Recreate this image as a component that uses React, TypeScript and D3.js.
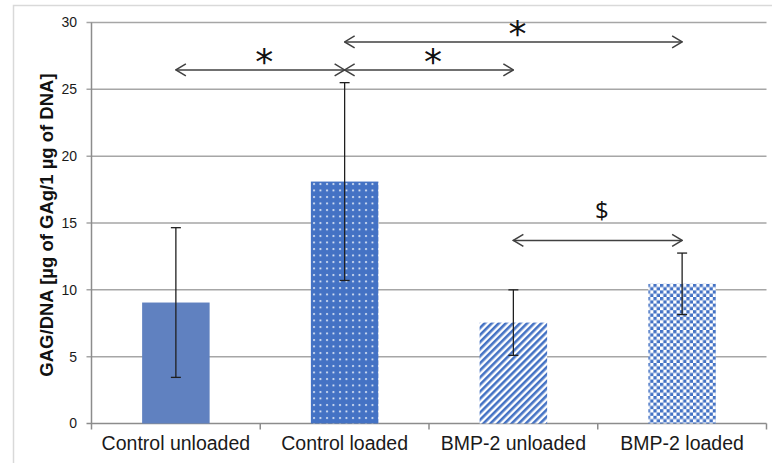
import * as React from "react"
import * as d3 from "d3"

const categories = ["Control unloaded", "Control loaded", "BMP-2 unloaded", "BMP-2 loaded"]
const means = [9.05, 18.1, 7.55, 10.45]
const errors = [5.6, 7.4, 2.45, 2.3]
const patterns = ["solid", "dots", "stripes", "checks"]
const yTicks = [0, 5, 10, 15, 20, 25, 30]

// significance brackets: from / to are category indexes, y in data units
const brackets = [
    { from: 0, to: 1, y: 26.45, label: "*" },
    { from: 1, to: 2, y: 26.45, label: "*" },
    { from: 1, to: 3, y: 28.55, label: "*" },
    { from: 2, to: 3, y: 13.7, label: "$" },
]

const W = 772
const H = 463
const margin = { left: 91.5, right: 5.5, top: 22.5, bottom: 39.5 }

export default function App() {
    const x = d3.scaleBand<string>()
        .domain(categories)
        .range([margin.left, W - margin.right])
        .paddingInner(0.6)
        .paddingOuter(0.3)

    const band = d3.scaleBand<string>()
        .domain(categories)
        .range([margin.left, W - margin.right])

    const y = d3.scaleLinear()
        .domain([0, 30])
        .range([H - margin.bottom, margin.top])

    const blue = "#4472c4"
    const fills: Record<string, string> = {
        solid: "#6081c0",
        dots: "url(#p-dots)",
        stripes: "url(#p-stripes)",
        checks: "url(#p-checks)",
    }

    const cx = (c: string) => x(c)! + x.bandwidth() / 2
    const font = "'Liberation Sans', Arial, sans-serif"

    return (
        <svg width={W} height={H} style={{ position: "absolute", left: 0, top: 0, display: "block", background: "#fff" }}>
            <defs>
                <pattern id="p-dots" width={6.5} height={6.5} patternUnits="userSpaceOnUse">
                    <rect width={6.5} height={6.5} fill={blue} />
                    <circle cx={2} cy={2} r={1} fill="#e4ebf7" />
                </pattern>
                <pattern id="p-stripes" width={5} height={5} patternUnits="userSpaceOnUse" patternTransform="rotate(45)">
                    <rect width={5} height={5} fill="#fff" />
                    <rect width={2.6} height={5} fill={blue} />
                </pattern>
                <pattern id="p-checks" width={6.6} height={6.6} patternUnits="userSpaceOnUse">
                    <rect width={6.6} height={6.6} fill="#fff" />
                    <rect width={3.3} height={3.3} fill={blue} />
                    <rect x={3.3} y={3.3} width={3.3} height={3.3} fill={blue} />
                </pattern>
                <marker id="chev" viewBox="0 0 12 14" refX={11} refY={7} markerWidth={12} markerHeight={14}
                    markerUnits="userSpaceOnUse" orient="auto-start-reverse">
                    <path d="M1,1 L11,7 L1,13" fill="none" stroke="#404040" strokeWidth={1.5} />
                </marker>
            </defs>

            {/* outer frame */}
            <rect x={13.5} y={5.5} width={W} height={H} fill="none" stroke="#d9d9d9" strokeWidth={1.5} />

            {/* grid lines */}
            {yTicks.map(t => (
                <g key={t}>
                    <line x1={margin.left - 5} x2={W - margin.right} y1={y(t)} y2={y(t)}
                        stroke={t === 0 ? "#8c8c8c" : "#a6a6a6"} strokeWidth={1.5} />
                    <text x={77} y={y(t)} dy="0.35em" textAnchor="end" fontFamily={font} fontSize={14} fill="#1a1a1a">{t}</text>
                </g>
            ))}

            {/* y axis */}
            <line x1={margin.left} x2={margin.left} y1={y(0)} y2={y(30)} stroke="#8c8c8c" strokeWidth={1.5} />

            {/* x ticks */}
            {categories.map(c => band(c)!).concat([W - margin.right]).map((v, i) => (
                <line key={i} x1={v} x2={v} y1={y(0)} y2={y(0) + 6} stroke="#8c8c8c" strokeWidth={1.5} />
            ))}

            {/* bars */}
            {categories.map((c, i) => (
                <rect key={c} x={x(c)} y={y(means[i])} width={x.bandwidth()} height={y(0) - y(means[i])}
                    fill={fills[patterns[i]]} />
            ))}

            {/* error bars */}
            {categories.map((c, i) => {
                const hi = y(means[i] + errors[i])
                const lo = y(means[i] - errors[i])
                return (
                    <g key={c} stroke="#1f1f1f" strokeWidth={1.3}>
                        <line x1={cx(c)} x2={cx(c)} y1={hi} y2={lo} />
                        <line x1={cx(c) - 5} x2={cx(c) + 5} y1={hi} y2={hi} />
                        <line x1={cx(c) - 5} x2={cx(c) + 5} y1={lo} y2={lo} />
                    </g>
                )
            })}

            {/* x labels */}
            {categories.map(c => (
                <text key={c} x={cx(c)} y={450} textAnchor="middle" fontFamily={font} fontSize={19.5} fill="#1a1a1a">{c}</text>
            ))}

            {/* y label */}
            <text transform={`translate(53,${225}) rotate(-90)`} textAnchor="middle" fontFamily={font}
                fontSize={18.5} fontWeight="bold" fill="#111">GAG/DNA [µg of GAg/1 µg of DNA]</text>

            {/* significance arrows */}
            {brackets.map((b, i) => {
                const x1 = cx(categories[b.from])
                const x2 = cx(categories[b.to])
                const yy = y(b.y)
                const mid = (x1 + x2) / 2 + 4
                return (
                    <g key={i}>
                        <line x1={x1} x2={x2} y1={yy} y2={yy} stroke="#404040" strokeWidth={1.5}
                            markerStart="url(#chev)" markerEnd="url(#chev)" />
                        {b.label === "*" ? (
                            <text x={mid} y={yy + 4} textAnchor="middle" fontFamily="'DejaVu Sans', sans-serif"
                                fontSize={36} fill="#111">{b.label}</text>
                        ) : (
                            <text x={mid} y={yy - 21} textAnchor="middle" fontFamily="'Open Sans', sans-serif"
                                fontSize={24} fill="#111">{b.label}</text>
                        )}
                    </g>
                )
            })}
        </svg>
    )
}
